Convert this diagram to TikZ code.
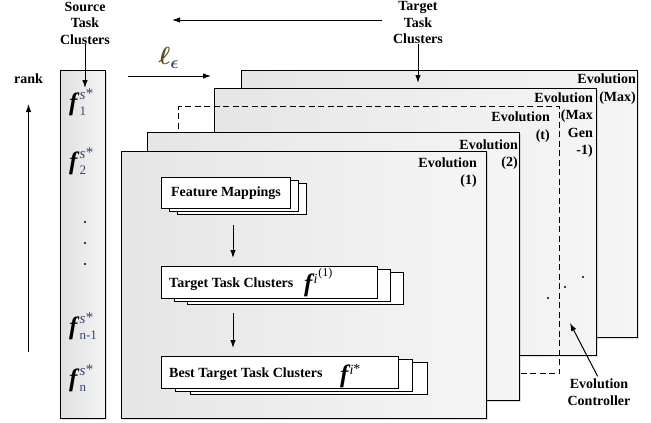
\documentclass[tikz,border=0pt]{standalone}
\usepackage{fontspec}
\setmainfont{Liberation Serif}
\usepackage{amsmath}
\usetikzlibrary{shadows,arrows.meta}
\definecolor{sblue}{RGB}{50,70,115}
\definecolor{lbrown}{RGB}{95,75,35}
\newcommand\bigf{{\fontsize{25}{25}\selectfont\bfseries\itshape f}}
\newcommand\srcf[1]{\bigf\kern2pt\raisebox{-5pt}{\vbox{\baselineskip=16pt\hbox{\color{sblue}\fontsize{15}{15}\selectfont\itshape s\kern0.5pt\raisebox{1pt}{\upshape *}}\hbox{\color{sblue}\fontsize{13}{13}\selectfont #1}}}}
\tikzset{
  lbl/.style={font=\fontsize{14}{16.5}\selectfont\bfseries, inner sep=0pt, align=center},
  evl/.style={font=\fontsize{14}{17.5}\selectfont\bfseries, inner sep=0pt, align=right, anchor=north east},
  layer/.style={draw, line width=1.1pt, left color=gray!20, right color=gray!8, anchor=north west, inner sep=0pt,
    drop shadow={shadow xshift=1.5pt, shadow yshift=-1.5pt, opacity=0.25}},
  col/.style={draw, line width=1.1pt, left color=gray!24, right color=gray!9, anchor=north west, inner sep=0pt,
    drop shadow={shadow xshift=1.5pt, shadow yshift=-1.5pt, opacity=0.25}},
  sbox/.style={draw, line width=1.1pt, fill=white, anchor=north west, inner sep=0pt},
  arr/.style={line width=1pt, -{Latex[length=8pt,width=5.5pt]}},
  dotm/.style={circle, fill=black, inner sep=0pt, minimum size=2.4pt}
}
\begin{document}
\begin{tikzpicture}[x=1pt,y=-1pt]
\useasboundingbox (0,0) rectangle (651,423);
% layers
\node[layer, minimum width=396pt, minimum height=267pt] (Lmax) at (241,70) {};
\node[layer, minimum width=382pt, minimum height=267pt] (Lmg) at (214,88) {};
\node[draw, line width=1.2pt, dash pattern=on 6pt off 3.5pt, anchor=north west, inner sep=0pt,
  minimum width=381pt, minimum height=267pt] (Lt) at (178,106) {};
\node[layer, minimum width=372pt, minimum height=268pt] (L2) at (147,132) {};
\node[layer, minimum width=365pt, minimum height=267pt] (L1) at (121,151) {};
% labels of layers
\node[evl] (eMax) at (636,74) {Evolution\\(Max)};
\node[evl] (eMg) at (593,92.5) {Evolution\\(Max\\Gen\\-1)};
\node[evl] (eT) at (550,112) {Evolution\\(t)};
\node[evl] (e2) at (518,139.5) {Evolution\\(2)};
\node[evl] (e1) at (477,157.5) {Evolution\\(1)};
% source column
\node[col, minimum width=45pt, minimum height=348pt] (col) at (60,70) {};
\node[inner sep=0pt, anchor=west] (s1) at (69,102) {\srcf{1}};
\node[inner sep=0pt, anchor=west] (s2) at (69,161) {\srcf{2}};
\node[dotm] (d1) at (85,222) {};
\node[dotm] (d2) at (85,243) {};
\node[dotm] (d3) at (85,264) {};
\node[inner sep=0pt, anchor=west] (sn1) at (69,326) {\srcf{n-1}};
\node[inner sep=0pt, anchor=west] (sn) at (69,378) {\srcf{n}};
% stacked boxes: feature mappings
\node[sbox, minimum width=129pt, minimum height=31pt] at (177,183) {};
\node[sbox, minimum width=129pt, minimum height=31pt] at (169,180) {};
\node[sbox, minimum width=129pt, minimum height=31pt] (fm) at (161,177) {};
\node[lbl] (fmt) at (fm.center) {Feature Mappings};
% target task clusters
\node[sbox, minimum width=216pt, minimum height=32pt] (tb3) at (187,272) {};
\node[sbox, minimum width=216pt, minimum height=32pt] (tb2) at (174,269) {};
\node[sbox, minimum width=216pt, minimum height=32pt] (ttc) at (161,266) {};
\node[lbl, anchor=base west] (ttct) at (169,287) {Target Task Clusters};
\node[inner sep=0pt, anchor=base west] (ttcf) at (304,291) {\bigf\kern1pt\raisebox{8pt}{\fontsize{14}{14}\selectfont\itshape i}\kern1pt\raisebox{15pt}{\fontsize{12}{12}\selectfont (1)}};
% best target task clusters
\node[sbox, minimum width=237pt, minimum height=32pt] (bb3) at (190,362) {};
\node[sbox, minimum width=237pt, minimum height=32pt] (bb2) at (175,359) {};
\node[sbox, minimum width=237pt, minimum height=32pt] (btc) at (161,356) {};
\node[lbl, anchor=base west] (btct) at (169,377) {Best Target Task Clusters};
\node[inner sep=0pt, anchor=base west] (btcf) at (340,382) {\bigf\kern1pt\raisebox{8pt}{\fontsize{14}{14}\selectfont\itshape i\raisebox{1pt}{\upshape *}}};
% inner arrows
\coordinate (ax) at (233,0);
\draw[arr, shorten <=16pt, shorten >=8pt] (fm.south -| ax) -- (ttc.north -| ax);
\draw[arr, shorten <=14pt, shorten >=8pt] (ttc.south -| ax) -- (btc.north -| ax);
% controller dots
\node[dotm] (c1) at (583,277) {};
\node[dotm] (c2) at (565,287) {};
\node[dotm] (c3) at (548,298) {};
% top labels
\node[lbl] (src) at (85,23) {Source\\Task\\Clusters};
\node[lbl] (tgt) at (418,23) {Target\\Task\\Clusters};
\coordinate (srcTip) at (85,88);
\coordinate (tgtTip) at (418,83);
\draw[arr] (src.south) -- (srcTip);
\draw[arr] (tgt.south) -- (tgtTip);
\node[lbl, anchor=base] (rank) at (28.5,83.5) {rank};
\coordinate (rankBot) at (28.5,352);
\coordinate (rankTop) at (28.5,104);
\draw[arr] (rankBot) -- (rankTop);
\coordinate (topR) at (382,20);
\coordinate (topL) at (172,20);
\draw[arr] (topR) -- (topL);
\node[inner sep=0pt, font=\fontsize{25}{25}\selectfont] (ell) at (169,58) {$\boldsymbol{\color{lbrown}\ell}_{\boldsymbol{\color{sblue}\epsilon}}$};
\coordinate (lR0) at (128,76);
\coordinate (lR1) at (211,76);
\draw[arr] (lR0) -- (lR1);
% evolution controller
\node[lbl, anchor=north] (ec) at (599,379) {Evolution\\Controller};
\coordinate (ecTip) at (570,323);
\draw[arr, shorten <=3pt] (ec.north) -- (ecTip);
\end{tikzpicture}
\end{document}
